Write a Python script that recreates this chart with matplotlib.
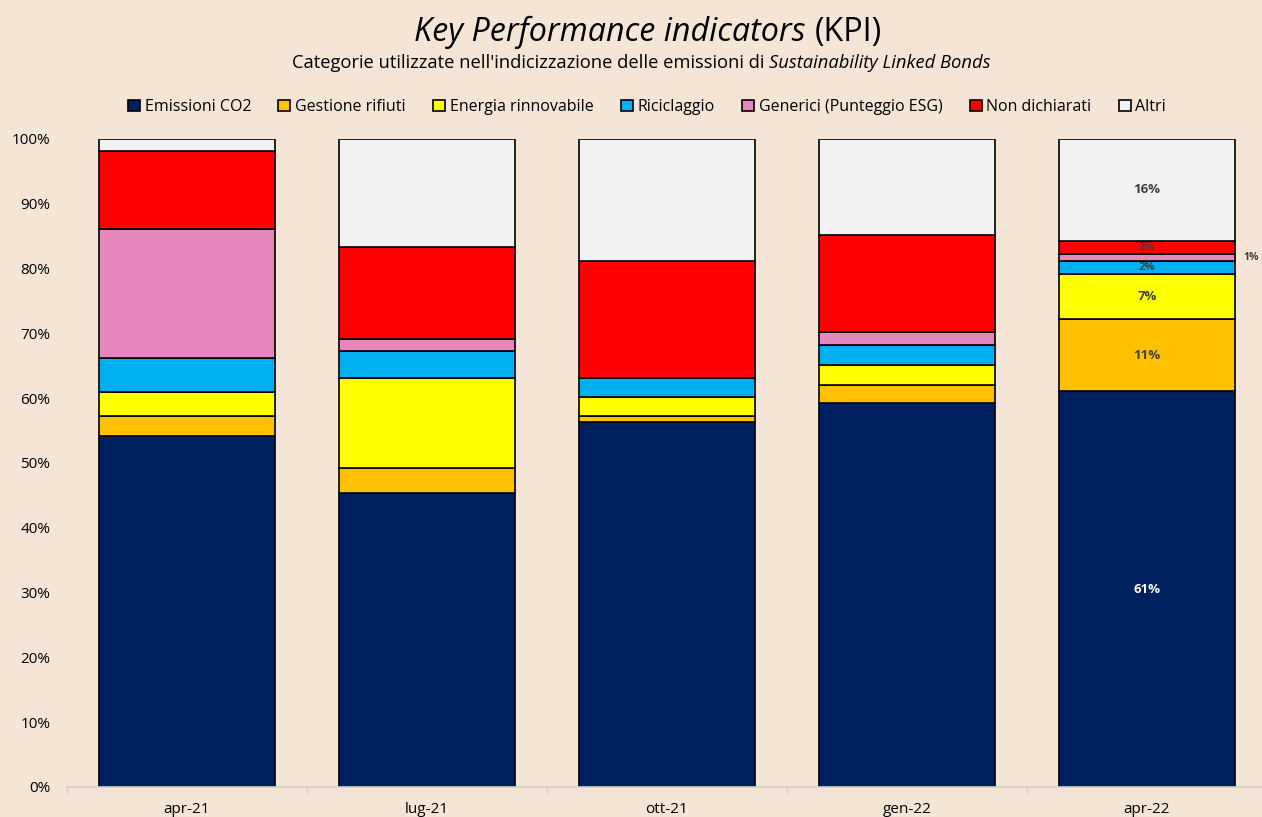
import matplotlib
matplotlib.use("Agg")
import matplotlib.pyplot as plt
import matplotlib.ticker as ticker
import numpy as np

# Dati (quote %)
periodi = ["apr-21", "lug-21", "ott-21", "gen-22", "apr-22"]
categorie = ["Emissioni CO2", "Gestione rifiuti", "Energia rinnovabile", "Riciclaggio",
             "Generici (Punteggio ESG)", "Non dichiarati", "Altri"]
emissioni_co2 = [54.2, 45.4, 56.3, 59.3, 61.1]
gestione_rifiuti = [3.1, 3.8, 1.0, 2.7, 11.1]
energia_rinnovabile = [3.7, 13.9, 2.9, 3.1, 7.0]
riciclaggio = [5.2, 4.2, 2.9, 3.1, 2.0]
generici = [19.9, 1.8, 0.0, 2.0, 1.1]
non_dichiarati = [12.0, 14.2, 18.1, 15.0, 2.0]
altri = [1.9, 16.7, 18.8, 14.8, 15.7]
etichette_apr22 = ["61%", "11%", "7%", "2%", "1%", "2%", "16%"]

colori = ["#002060", "#FFC000", "#FFFF00", "#00B0F0", "#E589BC", "#FF0000", "#F2F2F2"]
sfondo = "#F4E5D7"
FONT = "Open Sans"

serie = [emissioni_co2, gestione_rifiuti, energia_rinnovabile, riciclaggio,
         generici, non_dichiarati, altri]

fig = plt.figure(figsize=(12.62, 8.17), dpi=100, facecolor=sfondo)
ax = fig.add_axes([67 / 1262, 1 - 787 / 817, 1200 / 1262, (787 - 139) / 817])
ax.set_facecolor(sfondo)

x = np.arange(len(periodi))
bottom = np.zeros(len(periodi))
bars = []
for vals, col, nome in zip(serie, colori, categorie):
    v = np.array(vals) / 100
    b = ax.bar(x, v, 0.73, bottom=bottom, color=col, edgecolor="black",
               linewidth=1.2, label=nome)
    bars.append((b, bottom.copy(), v))
    bottom = bottom + v

# etichette sulla barra apr-22
i = 4
for k, (b, bot, v) in enumerate(bars):
    y = bot[i] + v[i] / 2
    if k == 4:
        ax.text(i + 0.40, y, etichette_apr22[k], ha="left", va="center",
                fontsize=7.5, fontweight="bold", color="#404040", family=FONT)
        continue
    col = "white" if k == 0 else "#404040"
    fs = 8 if v[i] < 0.03 else 9.5
    ax.text(i, y, etichette_apr22[k], ha="center", va="center",
            fontsize=fs, fontweight="bold", color=col, family=FONT)

ax.set_xlim(-0.5, len(periodi) - 0.5)
ax.set_ylim(0, 1)
ax.yaxis.set_major_locator(ticker.MultipleLocator(0.1))
ax.yaxis.set_major_formatter(ticker.PercentFormatter(1.0, decimals=0))
ax.set_xticks(x)
ax.set_xticklabels(periodi)
ax.set_xticks(np.arange(-0.5, len(periodi)), minor=True)
ax.tick_params(axis="x", which="major", length=0, pad=11, labelsize=11)
ax.tick_params(axis="x", which="minor", length=5, color="#D0D0D0", width=1)
ax.tick_params(axis="y", length=0, pad=12, labelsize=11)
for lab in ax.get_xticklabels() + ax.get_yticklabels():
    lab.set_family(FONT)
for s in ["top", "right", "left"]:
    ax.spines[s].set_visible(False)
ax.spines["bottom"].set_color("#D0D0D0")
ax.spines["bottom"].set_linewidth(1.2)

leg = fig.legend(loc="center", bbox_to_anchor=(647 / 1262, 1 - 107 / 817), ncol=7,
                 frameon=False, prop={"family": FONT, "size": 11.5},
                 handlelength=0.75, handleheight=0.75, handletextpad=0.3,
                 columnspacing=1.7)


def testo_misto(parti, xc, yc, size):
    # scrive pezzi con stili diversi centrati in xc
    fig.canvas.draw()
    r = fig.canvas.get_renderer()
    objs = []
    for t, st in parti:
        o = fig.text(0, yc, t, fontsize=size, style=st, family=FONT, va="center")
        objs.append(o)
    larg = [o.get_window_extent(r).width / fig.bbox.width for o in objs]
    x0 = xc - sum(larg) / 2
    for o, w in zip(objs, larg):
        o.set_x(x0)
        x0 += w


testo_misto([("Key Performance indicators ", "italic"), ("(KPI)", "normal")],
            648 / 1262, 1 - 32 / 817, 23.2)
testo_misto([("Categorie utilizzate nell'indicizzazione delle emissioni di ", "normal"),
             ("Sustainability Linked Bonds", "italic")],
            641 / 1262, 1 - 63 / 817, 13.2)

fig.savefig("out.png", dpi=100, facecolor=sfondo)
